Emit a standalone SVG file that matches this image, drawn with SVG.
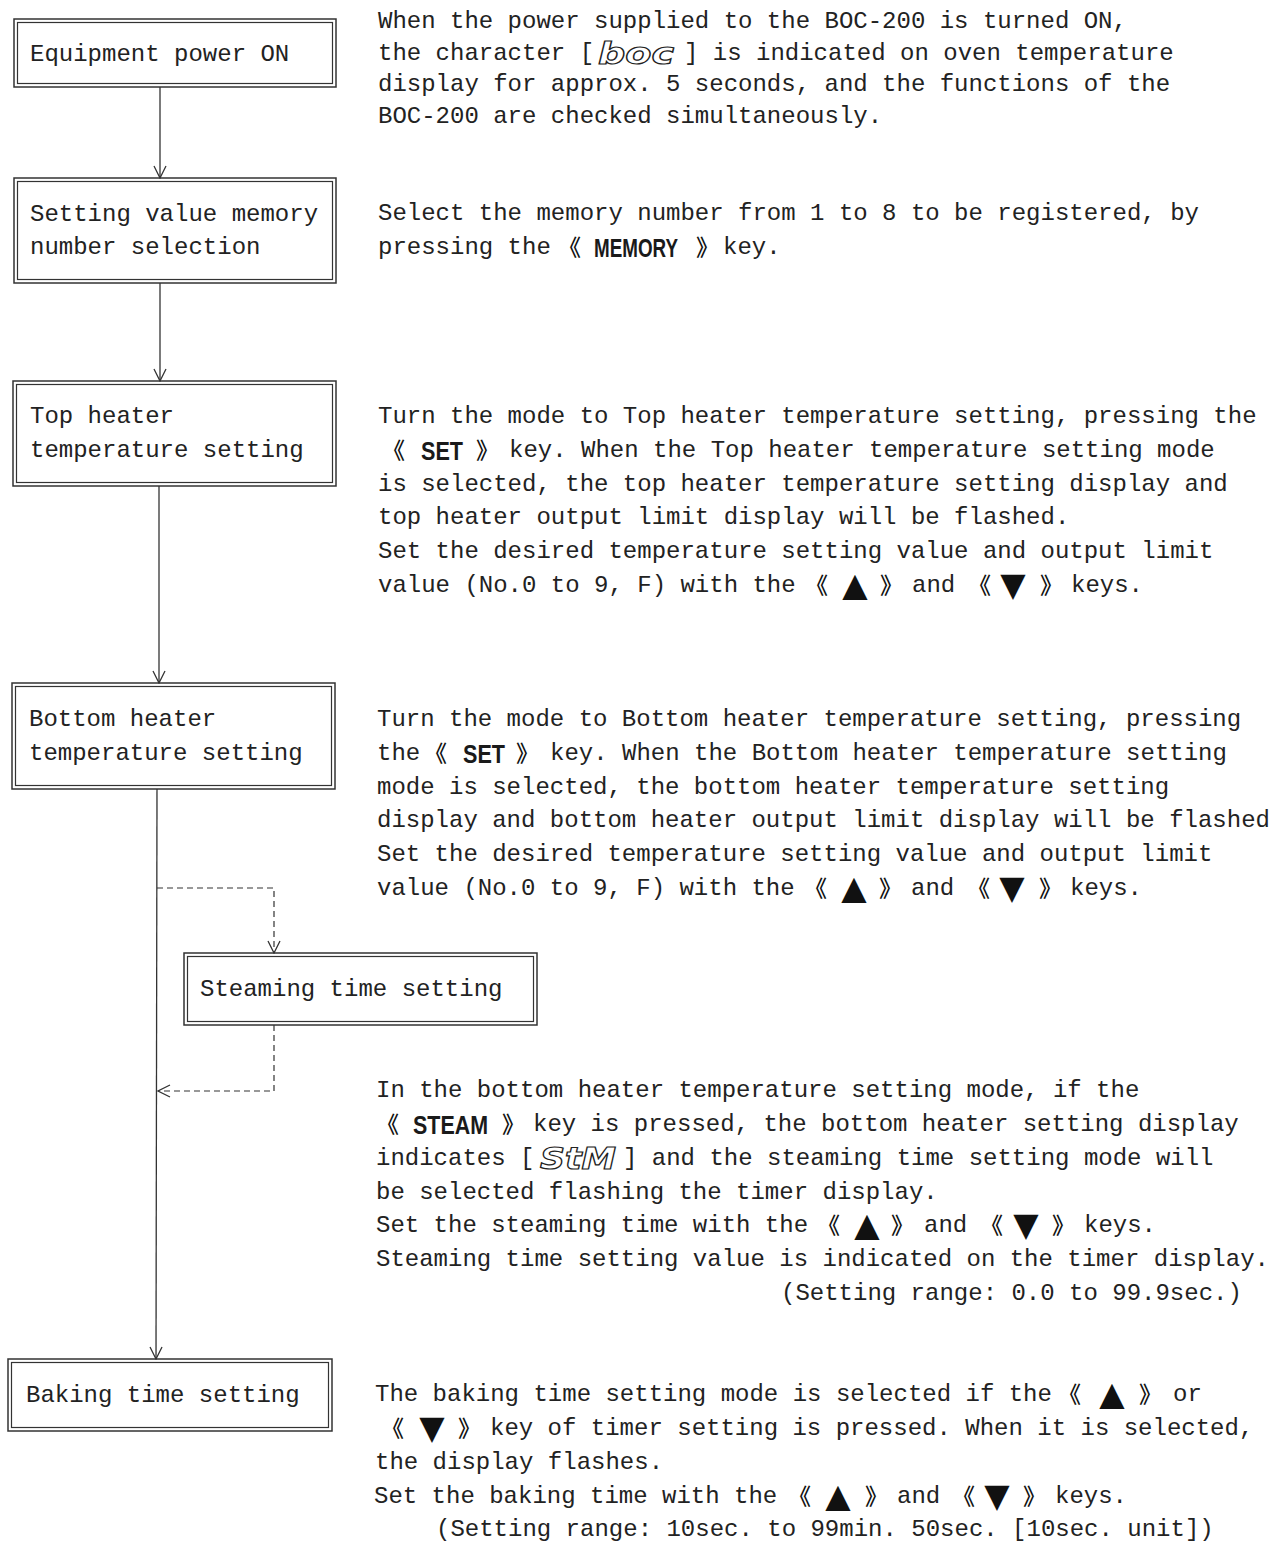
<svg xmlns="http://www.w3.org/2000/svg" width="1277" height="1542" viewBox="0 0 1277 1542">
<style>
.t{font-family:"Liberation Mono","Courier New",monospace;font-size:24px;fill:#222}
.k{font-family:"Liberation Sans",Arial,sans-serif;font-size:26px;font-weight:bold;fill:#1a1a1a}
.b{font-family:"Noto Sans CJK JP","Noto Sans CJK SC",sans-serif;font-size:23px;font-weight:500;fill:#111}
.tri{font-family:"DejaVu Sans",sans-serif;font-size:33px;fill:#111;text-anchor:middle}
.seg{font-family:"DejaVu Sans",sans-serif;font-style:italic;font-weight:bold;font-size:30px;fill:none;stroke:#222;stroke-width:1.2}
.o{fill:none;stroke:#333;stroke-width:1.5}
.i{fill:none;stroke:#333;stroke-width:1.2}
.c{fill:none;stroke:#333;stroke-width:1.3}
.d{fill:none;stroke:#333;stroke-width:1.2;stroke-dasharray:6 4}
</style>
<defs>
<marker id="ah" viewBox="0 0 14 14" refX="13" refY="7" markerWidth="14" markerHeight="14" markerUnits="userSpaceOnUse" orient="auto">
<path d="M1,1 L13,7 L1,13" fill="none" stroke="#333" stroke-width="1.3"/>
</marker>
</defs>
<rect width="1277" height="1542" fill="#fff"/>

<g id="connectors">
<line class="c" x1="160" y1="87" x2="160" y2="178" marker-end="url(#ah)"/>
<line class="c" x1="160" y1="283" x2="160" y2="381" marker-end="url(#ah)"/>
<line class="c" x1="159" y1="486" x2="159" y2="683" marker-end="url(#ah)"/>
<line class="c" x1="157" y1="789" x2="156" y2="1359" marker-end="url(#ah)"/>
<path class="d" d="M157,888 H274 V953" marker-end="url(#ah)"/>
<path class="d" d="M274,1025 V1091 H158" marker-end="url(#ah)"/>
</g>

<g id="node-power">
<rect class="o" x="14" y="19" width="322" height="68"/>
<rect class="i" x="17.5" y="22.5" width="315" height="61"/>
<text class="t" x="30" y="61">Equipment power ON</text>
</g>
<g id="node-memory">
<rect class="o" x="14" y="178" width="322" height="105"/>
<rect class="i" x="17.5" y="181.5" width="315" height="98"/>
<text class="t" x="30" y="221">Setting value memory</text>
<text class="t" x="30" y="254">number selection</text>
</g>
<g id="node-top">
<rect class="o" x="13" y="381" width="323" height="105"/>
<rect class="i" x="16.5" y="384.5" width="316" height="98"/>
<text class="t" x="30" y="423">Top heater</text>
<text class="t" x="30" y="457">temperature setting</text>
</g>
<g id="node-bottom">
<rect class="o" x="12" y="683" width="323" height="106"/>
<rect class="i" x="15.5" y="686.5" width="316" height="99"/>
<text class="t" x="29" y="726">Bottom heater</text>
<text class="t" x="29" y="760">temperature setting</text>
</g>
<g id="node-steam">
<rect class="o" x="184" y="953" width="353" height="72"/>
<rect class="i" x="187.5" y="956.5" width="346" height="65"/>
<text class="t" x="200" y="996">Steaming time setting</text>
</g>
<g id="node-baking">
<rect class="o" x="8" y="1359" width="324" height="72"/>
<rect class="i" x="11.5" y="1362.5" width="317" height="65"/>
<text class="t" x="26" y="1402">Baking time setting</text>
</g>

<g id="desc-power">
<text class="t" x="378" y="28">When the power supplied to the BOC-200 is turned ON,</text>
<text class="t" x="378" y="60">the character [</text>
<text class="seg" x="598" y="64" textLength="76" lengthAdjust="spacingAndGlyphs">boc</text>
<text class="t" x="684" y="60">] is indicated on oven temperature</text>
<text class="t" x="378" y="91">display for approx. 5 seconds, and the functions of the</text>
<text class="t" x="378" y="123">BOC-200 are checked simultaneously.</text>
</g>

<g id="desc-memory">
<text class="t" x="378" y="220">Select the memory number from 1 to 8 to be registered, by</text>
<text class="t" x="378" y="254">pressing the</text>
<text class="b" x="558" y="256">《</text>
<text class="k" x="594" y="257" textLength="84" lengthAdjust="spacingAndGlyphs">MEMORY</text>
<text class="b" x="696" y="256">》</text>
<text class="t" x="723" y="254">key.</text>
</g>

<g id="desc-top">
<text class="t" x="378" y="423">Turn the mode to Top heater temperature setting, pressing the</text>
<text class="b" x="382" y="459">《</text>
<text class="k" x="421" y="460" textLength="42" lengthAdjust="spacingAndGlyphs">SET</text>
<text class="b" x="476" y="459">》</text>
<text class="t" x="509" y="457">key. When the Top heater temperature setting mode</text>
<text class="t" x="378" y="491">is selected, the top heater temperature setting display and</text>
<text class="t" x="378" y="524">top heater output limit display will be flashed.</text>
<text class="t" x="378" y="558">Set the desired temperature setting value and output limit</text>
<text class="t" x="378" y="592">value (No.0 to 9, F) with the</text>
<text class="b" x="805" y="594">《</text>
<text class="tri" x="855" y="596">▲</text>
<text class="b" x="880" y="594">》</text>
<text class="t" x="912" y="592">and</text>
<text class="b" x="968" y="594">《</text>
<text class="tri" x="1013" y="596">▼</text>
<text class="b" x="1040" y="594">》</text>
<text class="t" x="1071" y="592">keys.</text>
</g>

<g id="desc-bottom">
<text class="t" x="377" y="726">Turn the mode to Bottom heater temperature setting, pressing</text>
<text class="t" x="377" y="760">the</text>
<text class="b" x="424" y="762">《</text>
<text class="k" x="463" y="763" textLength="42" lengthAdjust="spacingAndGlyphs">SET</text>
<text class="b" x="516" y="762">》</text>
<text class="t" x="550" y="760">key. When the Bottom heater temperature setting</text>
<text class="t" x="377" y="794">mode is selected, the bottom heater temperature setting</text>
<text class="t" x="377" y="827">display and bottom heater output limit display will be flashed</text>
<text class="t" x="377" y="861">Set the desired temperature setting value and output limit</text>
<text class="t" x="377" y="895">value (No.0 to 9, F) with the</text>
<text class="b" x="804" y="897">《</text>
<text class="tri" x="854" y="899">▲</text>
<text class="b" x="879" y="897">》</text>
<text class="t" x="911" y="895">and</text>
<text class="b" x="967" y="897">《</text>
<text class="tri" x="1012" y="899">▼</text>
<text class="b" x="1039" y="897">》</text>
<text class="t" x="1070" y="895">keys.</text>
</g>

<g id="desc-steam">
<text class="t" x="376" y="1097">In the bottom heater temperature setting mode, if the</text>
<text class="b" x="376" y="1133">《</text>
<text class="k" x="413" y="1134" textLength="75" lengthAdjust="spacingAndGlyphs">STEAM</text>
<text class="b" x="502" y="1133">》</text>
<text class="t" x="533" y="1131">key is pressed, the bottom heater setting display</text>
<text class="t" x="376" y="1165">indicates [</text>
<text class="seg" x="540" y="1169" textLength="76" lengthAdjust="spacingAndGlyphs">StM</text>
<text class="t" x="623" y="1165">] and the steaming time setting mode will</text>
<text class="t" x="376" y="1199">be selected flashing the timer display.</text>
<text class="t" x="376" y="1232">Set the steaming time with the</text>
<text class="b" x="817" y="1234">《</text>
<text class="tri" x="867" y="1236">▲</text>
<text class="b" x="891" y="1234">》</text>
<text class="t" x="924" y="1232">and</text>
<text class="b" x="980" y="1234">《</text>
<text class="tri" x="1026" y="1236">▼</text>
<text class="b" x="1052" y="1234">》</text>
<text class="t" x="1084" y="1232">keys.</text>
<text class="t" x="376" y="1266">Steaming time setting value is indicated on the timer display.</text>
<text class="t" x="781" y="1300">(Setting range: 0.0 to 99.9sec.)</text>
</g>

<g id="desc-baking">
<text class="t" x="375" y="1401">The baking time setting mode is selected if the</text>
<text class="b" x="1058" y="1403">《</text>
<text class="tri" x="1112" y="1405">▲</text>
<text class="b" x="1139" y="1403">》</text>
<text class="t" x="1173" y="1401">or</text>
<text class="b" x="381" y="1437">《</text>
<text class="tri" x="432" y="1439">▼</text>
<text class="b" x="458" y="1437">》</text>
<text class="t" x="490" y="1435">key of timer setting is pressed. When it is selected,</text>
<text class="t" x="375" y="1469">the display flashes.</text>
<text class="t" x="374" y="1503">Set the baking time with the</text>
<text class="b" x="788" y="1505">《</text>
<text class="tri" x="838" y="1507">▲</text>
<text class="b" x="865" y="1505">》</text>
<text class="t" x="897" y="1503">and</text>
<text class="b" x="952" y="1505">《</text>
<text class="tri" x="997" y="1507">▼</text>
<text class="b" x="1023" y="1505">》</text>
<text class="t" x="1055" y="1503">keys.</text>
<text class="t" x="436" y="1536">(Setting range: 10sec. to 99min. 50sec. [10sec. unit])</text>
</g>
</svg>
